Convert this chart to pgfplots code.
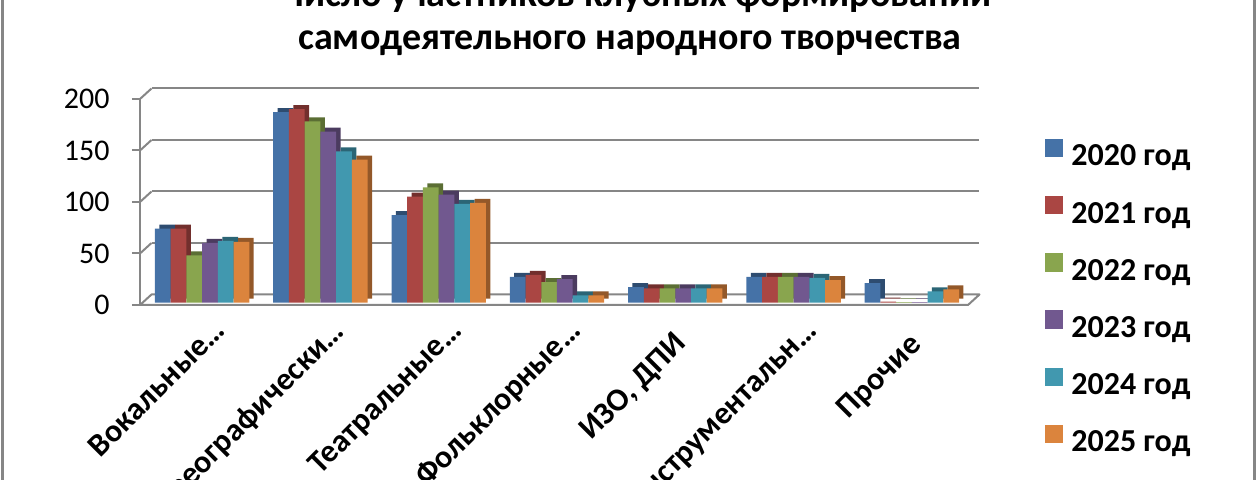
\documentclass[border=0pt]{standalone}
\usepackage{fontspec}
\setmainfont{Carlito}
\usepackage{pgfplots}
\usepackage{pgfplotstable}
\pgfplotsset{compat=1.18}

\definecolor{c1}{HTML}{4572A7}\definecolor{s1}{HTML}{2E4C70}
\definecolor{c2}{HTML}{AA4643}\definecolor{s2}{HTML}{722F2D}
\definecolor{c3}{HTML}{89A54E}\definecolor{s3}{HTML}{5B6E34}
\definecolor{c4}{HTML}{71588F}\definecolor{s4}{HTML}{4B3B5F}
\definecolor{c5}{HTML}{4198AF}\definecolor{s5}{HTML}{2B6575}
\definecolor{c6}{HTML}{DB843D}\definecolor{s6}{HTML}{935829}
\definecolor{gridc}{HTML}{868686}

\pgfplotstableread{
x a b c d e f
0 72 72 46 58 60 59
1 185 188 176 166 147 139
2 85 103 112 105 96 97
3 25 27 20 23 7 7
4 15 14 14 14 14 14
5 25 25 25 25 24 22
6 19 1 0.5 0.5 11 13
}\data

\pgfplotsset{
  base/.style={scale only axis, width=414pt, height=103pt,
    xmin=-0.5, xmax=6.5, ymin=0, ymax=200, anchor=south west},
  bw/.style={ybar, bar width=0.133, draw=none, bar shift=#1},
}

\begin{document}
\begin{tikzpicture}
\begin{scope}
\clip (0,0) rectangle (630pt,240pt);

% back wall grid
\begin{axis}[base, at={(75.75pt,92.75pt)},
  axis line style={draw=none}, tick style={draw=none},
  xtick=\empty, ytick={50,100,150,200}, yticklabels={},
  ymajorgrids, grid style={gridc, line width=1pt}]
\end{axis}

% floor and side wall
\draw[gridc, line width=1pt, line join=round]
  (70pt,87.5pt) -- (75.75pt,92.75pt) -- (489.75pt,92.75pt) -- (484pt,87.5pt) -- cycle;
\foreach \v in {50,100,150,200}{
  \draw[gridc, line width=1pt] (70pt,{87.5pt+\v*0.515pt}) -- (75.75pt,{92.75pt+\v*0.515pt});
}

% front axis with y ticks
\begin{axis}[base, at={(70pt,87.5pt)},
  separate axis lines, axis x line=none, axis y line*=left,
  y axis line style={gridc, line width=1pt, -},
  ytick={0,50,100,150,200}, ytick style={gridc, line width=1pt},
  tick align=outside, major tick length=4pt,
  /pgf/number format/assume math mode=true,
  yticklabel style={font=\fontsize{15}{17}\selectfont, anchor=east, inner sep=0pt, xshift=-11pt},
  xtick=\empty]
\end{axis}

% depth (side/top faces)
\begin{axis}[base, at={(73.7pt,90.65pt)}, hide axis]
\addplot[bw=-0.3325, fill=s1] table[x=x,y=a]{\data};
\addplot[bw=-0.1995, fill=s2] table[x=x,y=b]{\data};
\addplot[bw=-0.0665, fill=s3] table[x=x,y=c]{\data};
\addplot[bw=0.0665, fill=s4] table[x=x,y=d]{\data};
\addplot[bw=0.1995, fill=s5] table[x=x,y=e]{\data};
\addplot[bw=0.3325, fill=s6] table[x=x,y=f]{\data};
\end{axis}

% front faces, labels, legend
\begin{axis}[base, at={(71.5pt,88.65pt)},
  axis line style={draw=none}, tick style={draw=none},
  ytick=\empty, tick align=inside,
  xtick={0,...,6},
  xticklabels={Вокальные…, Хореографически…, Театральные…, Фольклорные…,
    {ИЗО, ДПИ\kern9pt}, Инструментальн…, Прочие\kern10pt},
  xticklabel style={font=\bfseries\fontsize{16}{18}\selectfont, rotate=45,
    anchor=north east, inner sep=0pt, xshift=-1.5pt, yshift=-8.6pt},
  legend style={at={(1.0821,0.8174)}, anchor=north west, draw=none, fill=none,
    font=\bfseries\fontsize{16}{18}\selectfont, row sep=11pt,
    nodes={inner sep=0pt, text height=12pt, text depth=4pt},
    /tikz/every odd column/.style={column sep=4pt}},
  legend cell align=left,
  legend image code/.code={\fill[#1] (0pt,0.4pt) rectangle (9pt,9.6pt);}]
\addplot[bw=-0.3325, fill=c1] table[x=x,y=a]{\data};
\addplot[bw=-0.1995, fill=c2] table[x=x,y=b]{\data};
\addplot[bw=-0.0665, fill=c3] table[x=x,y=c]{\data};
\addplot[bw=0.0665, fill=c4] table[x=x,y=d]{\data};
\addplot[bw=0.1995, fill=c5] table[x=x,y=e]{\data};
\addplot[bw=0.3325, fill=c6] table[x=x,y=f]{\data};
\legend{2020 год, 2021 год, 2022 год, 2023 год, 2024 год, 2025 год}
\end{axis}

% title
\node[anchor=base, font=\bfseries\fontsize{19}{22}\selectfont] at (318.5pt,236.5pt) {Число участников клубных формирований};
\node[anchor=base, font=\bfseries\fontsize{19}{22}\selectfont] at (315pt,215pt) {самодеятельного народного творчества};

% chart border
\draw[gridc, line width=1.3pt] (1.1pt,-5pt) -- (1.1pt,245pt);
\draw[gridc, line width=1.3pt] (627.3pt,-5pt) -- (627.3pt,245pt);
\end{scope}
\pgfresetboundingbox
\useasboundingbox (0,0) rectangle (630pt,240pt);
\end{tikzpicture}
\end{document}
